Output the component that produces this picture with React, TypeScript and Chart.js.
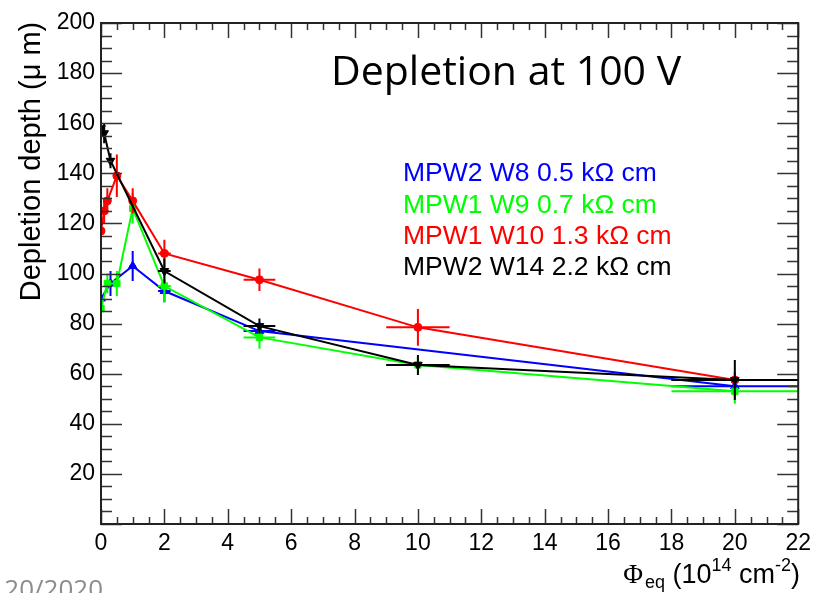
import React, { useEffect, useRef } from "react";
import { Chart, registerables } from "chart.js";

Chart.register(...registerables);

// ---- data ----
const xTicks = [0, 2, 4, 6, 8, 10, 12, 14, 16, 18, 20, 22];
const yTicks = [20, 40, 60, 80, 100, 120, 140, 160, 180, 200];

const blueX = [0, 0.3, 1, 2, 5, 20];
const blueY = [90, 96, 103, 93, 77, 55];
const blueYErr = [4.5, 5, 6, 4.5, 3.5, 4];
const blueXErr = [0, 0.03, 0.1, 0.2, 0.5, 2];

const greenX = [0, 0.2, 0.5, 1, 2, 5, 10, 20];
const greenY = [86, 96, 96, 126, 95, 74.5, 63.5, 53];
const greenYErr = [5, 4, 5, 6, 6.5, 4.5, 3, 5];
const greenXErr = [0, 0.02, 0.05, 0.1, 0.2, 0.5, 1, 2];

const redX = [0, 0.1, 0.2, 0.5, 1, 2, 5, 10, 20];
const redY = [117, 125, 129, 139, 129, 108, 97.5, 78.5, 57.5];
const redYErr = [6, 5, 5, 8.5, 5, 5.5, 4.5, 7.3, 3];
const redXErr = [0, 0.01, 0.02, 0.05, 0.1, 0.2, 0.5, 1, 2];

const blackX = [0, 0.1, 0.3, 2, 5, 10, 20];
const blackY = [158, 156, 145, 101, 79, 63.5, 57.5];
const blackYErr = [5.5, 4, 3, 5, 3, 4, 8];
const blackXErr = [0, 0.01, 0.03, 0.2, 0.5, 1, 2];

const legendLabels = [
  "MPW2 W8 0.5 k\u03A9 cm",
  "MPW1 W9 0.7 k\u03A9 cm",
  "MPW1 W10 1.3 k\u03A9 cm",
  "MPW2 W14 2.2 k\u03A9 cm",
];
const legendColors = ["#0000ff", "#00ff00", "#ff0000", "#000000"];

const titleText = "Depletion at 100 V";
const yTitle = "Depletion depth (\u03BC m)";
const dateText = "20/2020";

function pts(xs: number[], ys: number[]) {
  return xs.map((x, i) => ({ x, y: ys[i] }));
}

const errorBarPlugin = {
  id: "errorBars",
  beforeDatasetDraw(chart: any, args: any) {
    const ds = chart.data.datasets[args.index];
    if (!ds.yErr) return;
    const { ctx, scales } = chart;
    const xs = scales.x;
    const ys = scales.y;
    ctx.save();
    ctx.strokeStyle = ds.borderColor;
    ctx.lineWidth = 2;
    ds.data.forEach((p: any, i: number) => {
      const px = xs.getPixelForValue(p.x);
      const py = ys.getPixelForValue(p.y);
      const ey = ds.yErr[i];
      const ex = ds.xErr[i];
      ctx.beginPath();
      ctx.moveTo(px, ys.getPixelForValue(p.y - ey));
      ctx.lineTo(px, ys.getPixelForValue(p.y + ey));
      if (ex > 0) {
        ctx.moveTo(xs.getPixelForValue(p.x - ex), py);
        ctx.lineTo(xs.getPixelForValue(p.x + ex), py);
      }
      ctx.stroke();
    });
    ctx.restore();
  },
};

const framePlugin = {
  id: "rootFrame",
  afterDraw(chart: any) {
    const { ctx, chartArea: a, scales } = chart;
    const xs = scales.x;
    const ys = scales.y;
    ctx.save();
    ctx.strokeStyle = "#333";
    ctx.lineWidth = 1.5;
    ctx.beginPath();
    // y ticks: major every 20, minor every 5
    for (let v = 0; v <= 200; v += 5) {
      const py = Math.round(ys.getPixelForValue(v)) + 0.5;
      const len = v % 20 === 0 ? 21 : 11;
      ctx.moveTo(a.left, py);
      ctx.lineTo(a.left + len, py);
      ctx.moveTo(a.right, py);
      ctx.lineTo(a.right - len, py);
    }
    // x ticks: major every 2, minor every 0.5
    for (let v = 0; v <= 22; v += 0.5) {
      const px = Math.round(xs.getPixelForValue(v)) + 0.5;
      const len = v % 2 === 0 ? 15 : 7;
      ctx.moveTo(px, a.bottom);
      ctx.lineTo(px, a.bottom - len);
      ctx.moveTo(px, a.top);
      ctx.lineTo(px, a.top + len);
    }
    ctx.stroke();
    ctx.lineWidth = 2;
    ctx.strokeStyle = "#222";
    ctx.strokeRect(a.left, a.top, a.right - a.left, a.bottom - a.top);

    // title
    ctx.fillStyle = "#000";
    ctx.textAlign = "left";
    ctx.textBaseline = "alphabetic";
    ctx.font = '41px "Open Sans"';
    ctx.fillText(titleText, 331, 85);

    // legend texts
    ctx.font = '26.5px "Liberation Sans"';
    const base = [181, 212.5, 244, 275];
    legendLabels.forEach((t, i) => {
      ctx.fillStyle = legendColors[i];
      ctx.fillText(t, 403, base[i]);
    });

    // y title
    ctx.save();
    ctx.fillStyle = "#000";
    ctx.translate(40, 161.5);
    ctx.rotate(-Math.PI / 2);
    ctx.textAlign = "center";
    ctx.font = '29px "Liberation Sans"';
    ctx.fillText(yTitle, 0, 0);
    ctx.restore();

    // x title (rich text), right aligned at 800
    const parts: [string, string, number, number][] = [
      ["\u03A6", '27px "Liberation Serif"', 0, 2],
      ["eq", '18px "Liberation Sans"', 5, 0],
      [" (10", '27px "Liberation Sans"', 0, 0],
      ["14", '18px "Liberation Sans"', -12, 0],
      [" cm", '27px "Liberation Sans"', 0, 0],
      ["-2", '18px "Liberation Sans"', -12, 0],
      [")", '27px "Liberation Sans"', 0, 0],
    ];
    let total = 0;
    parts.forEach(([t, f, , gap]) => {
      ctx.font = f;
      total += ctx.measureText(t).width + gap;
    });
    let cx = 800 - total;
    ctx.fillStyle = "#000";
    ctx.textAlign = "left";
    parts.forEach(([t, f, dy, gap]) => {
      ctx.font = f;
      ctx.fillText(t, cx, 583 + dy);
      cx += ctx.measureText(t).width + gap;
    });

    // date remnant
    ctx.fillStyle = "#8c8c8c";
    ctx.textAlign = "right";
    ctx.font = '26px "Open Sans"';
    ctx.fillText(dateText, 103, 598);
    ctx.restore();
  },
};

export default function App() {
  const ref = useRef<HTMLCanvasElement | null>(null);
  useEffect(() => {
    if (!ref.current) return;
    const tickFont = { family: "Liberation Sans", size: 23 };
    const mk = (
      xs: number[],
      ys: number[],
      ye: number[],
      xe: number[],
      color: string,
      style: string,
      rot: number,
      r: number
    ) => ({
      data: pts(xs, ys),
      yErr: ye,
      xErr: xe,
      borderColor: color,
      backgroundColor: color,
      borderWidth: 2,
      showLine: true,
      tension: 0,
      pointStyle: style,
      rotation: rot,
      pointRadius: r,
      pointBorderWidth: 1,
    });
    const chart = new Chart(ref.current, {
      type: "scatter",
      data: {
        datasets: [
          mk(blackX, blackY, blackYErr, blackXErr, "#000000", "triangle", 180, 5),
          mk(redX, redY, redYErr, redXErr, "#ff0000", "circle", 0, 4),
          mk(greenX, greenY, greenYErr, greenXErr, "#00ff00", "rect", 0, 4.5),
          mk(blueX, blueY, blueYErr, blueXErr, "#0000ff", "triangle", 0, 5),
        ] as any,
      },
      options: {
        responsive: false,
        animation: false,
        layout: { padding: { top: 23, right: 17, left: 0, bottom: 0 } },
        plugins: { legend: { display: false }, tooltip: { enabled: false } },
        scales: {
          x: {
            type: "linear",
            min: 0,
            max: 22,
            afterBuildTicks: (s: any) => {
              s.ticks = xTicks.map((v) => ({ value: v }));
            },
            ticks: {
              font: tickFont,
              color: "#000",
              padding: 6,
              maxRotation: 0,
              autoSkip: false,
              callback: (v: any) => String(v),
            },
            grid: { display: false, drawTicks: false },
            border: { display: false },
            afterFit: (s: any) => {
              s.height = 69;
            },
          },
          y: {
            type: "linear",
            min: 0,
            max: 200,
            afterBuildTicks: (s: any) => {
              s.ticks = yTicks.map((v) => ({ value: v }));
            },
            ticks: {
              font: tickFont,
              color: "#000",
              padding: 6,
              autoSkip: false,
              callback: (v: any) => String(v),
            },
            grid: { display: false, drawTicks: false },
            border: { display: false },
            afterFit: (s: any) => {
              s.width = 101;
            },
          },
        },
      } as any,
      plugins: [errorBarPlugin, framePlugin],
    });
    return () => chart.destroy();
  }, []);
  return (
    <div style={{ position: "fixed", left: 0, top: 0, width: 817, height: 593, background: "#fff" }}>
      <canvas ref={ref} width={817} height={593} style={{ width: 817, height: 593 }} />
    </div>
  );
}
